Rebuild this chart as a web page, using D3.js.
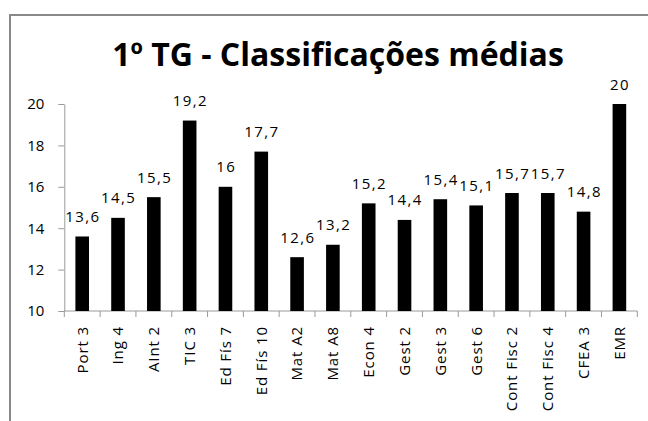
<!DOCTYPE html>
<html>
<head>
<meta charset="utf-8">
<script src="https://cdn.jsdelivr.net/npm/d3@7"></script>
<style>
  body { margin: 0; background: #fff; }
  svg { display: block; font-family: "Open Sans", sans-serif; }
</style>
</head>
<body>
<div id="chart"></div>
<script>
/**
 * DATA
 * */
const disciplinas = ["Port 3", "Ing 4", "AInt 2", "TIC 3", "Ed Fís 7", "Ed Fís 10", "Mat A2", "Mat A8",
  "Econ 4", "Gest 2", "Gest 3", "Gest 6", "Cont Fisc 2", "Cont Fisc 4", "CFEA 3", "EMR"];
const medias = [13.6, 14.5, 15.5, 19.2, 16, 17.7, 12.6, 13.2, 15.2, 14.4, 15.4, 15.1, 15.7, 15.7, 14.8, 20];
const yTicks = [10, 12, 14, 16, 18, 20];
const titulo = "1º TG - Classificações médias";

/**
 * CONSTANTS
 * */
const width = 648,
  height = 421,
  margin = { top: 104, bottom: 110, left: 64.3, right: 10.7 };

const svg = d3.select("#chart")
  .append("svg")
  .attr("width", width)
  .attr("height", height);

// chart frame (cut off by the window on the right and bottom)
svg.append("path")
  .attr("d", `M10,${height + 5} V15 H${width + 5}`)
  .attr("fill", "none")
  .attr("stroke", "#898989")
  .attr("stroke-width", 2);

svg.append("text")
  .attr("x", 338)
  .attr("y", 66)
  .attr("text-anchor", "middle")
  .attr("font-size", 32)
  .attr("font-weight", "bold")
  .attr("fill", "#000")
  .text(titulo);

const x = d3.scaleBand()
  .domain(disciplinas)
  .range([margin.left, width - margin.right])
  .paddingInner(0.62)
  .paddingOuter(0.31);

const y = d3.scaleLinear()
  .domain([10, 20])
  .range([height - margin.bottom, margin.top]);

// y axis
const yAxis = svg.append("g")
  .attr("transform", `translate(${margin.left},0)`)
  .call(d3.axisLeft(y).tickValues(yTicks).tickSize(6).tickSizeOuter(0).tickPadding(14));
yAxis.select(".domain").attr("stroke", "#9a9a9a");
yAxis.selectAll(".tick line").attr("stroke", "#9a9a9a");
yAxis.selectAll(".tick text")
  .attr("font-size", 15)
  .attr("font-family", "Open Sans, sans-serif")
  .attr("fill", "#000");

// x axis: labels from the band scale, ticks on the band boundaries
const xAxis = svg.append("g")
  .attr("transform", `translate(0,${y(10)})`)
  .call(d3.axisBottom(x).tickSize(0).tickSizeOuter(0));
xAxis.select(".domain").remove();
xAxis.selectAll(".tick text")
  .attr("transform", "rotate(-90)")
  .attr("x", -15)
  .attr("y", 0)
  .attr("dy", "0.36em")
  .attr("text-anchor", "end")
  .attr("font-size", 15)
  .attr("letter-spacing", 0.9)
  .attr("font-family", "Open Sans, sans-serif")
  .attr("fill", "#000");

xAxis.append("line")
  .attr("x1", x.range()[0])
  .attr("x2", x.range()[1])
  .attr("stroke", "#9a9a9a");

xAxis.selectAll(".bound")
  .data(d3.range(disciplinas.length + 1))
  .join("line")
  .attr("class", "bound")
  .attr("x1", i => x.range()[0] + i * x.step())
  .attr("x2", i => x.range()[0] + i * x.step())
  .attr("y1", 0)
  .attr("y2", 6)
  .attr("stroke", "#9a9a9a");

// bars
svg.selectAll("rect.bar")
  .data(medias)
  .join("rect")
  .attr("class", "bar")
  .attr("x", (d, i) => x(disciplinas[i]))
  .attr("width", x.bandwidth())
  .attr("y", d => y(d))
  .attr("height", d => y(10) - y(d))
  .attr("fill", "#000");

// value labels
svg.selectAll("text.valor")
  .data(medias)
  .join("text")
  .attr("class", "valor")
  .attr("x", (d, i) => x(disciplinas[i]) + x.bandwidth() / 2 + 0.7)
  .attr("y", d => y(d) - 14.5)
  .attr("text-anchor", "middle")
  .attr("font-size", 15)
  .attr("letter-spacing", 1.4)
  .attr("fill", "#000")
  .text(d => String(d).replace(".", ","));
</script>
</body>
</html>
